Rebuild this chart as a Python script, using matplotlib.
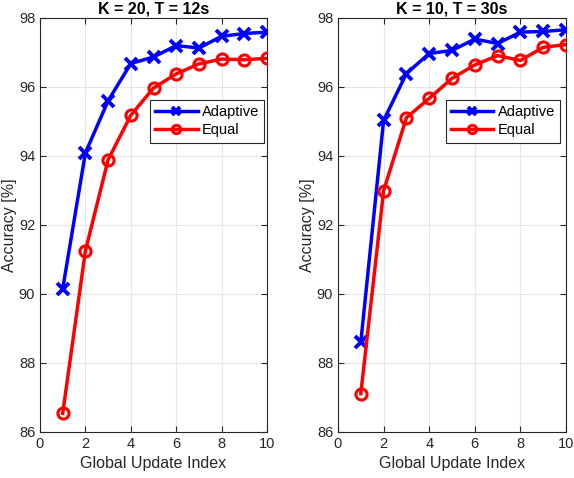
import numpy as np
import matplotlib
matplotlib.use("Agg")
import matplotlib.pyplot as plt

plt.rcParams['font.family'] = ['Liberation Sans', 'DejaVu Sans']

# data
idx = [1, 2, 3, 4, 5, 6, 7, 8, 9, 10]
titles = ['K = 20, T = 12s', 'K = 10, T = 30s']
adaptive_k20 = [90.15, 94.09, 95.60, 96.68, 96.87, 97.20, 97.13, 97.47, 97.55, 97.59]
equal_k20 = [86.54, 91.25, 93.89, 95.18, 95.97, 96.38, 96.67, 96.81, 96.79, 96.83]
adaptive_k10 = [88.60, 95.03, 96.39, 96.97, 97.06, 97.39, 97.26, 97.59, 97.61, 97.66]
equal_k10 = [87.11, 92.99, 95.11, 95.67, 96.25, 96.64, 96.91, 96.77, 97.15, 97.23]
xticks = [0, 2, 4, 6, 8, 10]
yticks = [86, 88, 90, 92, 94, 96, 98]

W, H = 574, 478
fig = plt.figure(figsize=(W / 100, H / 100), dpi=100)

# axes boxes in pixels: left, right, top, bottom
boxes = [(40, 267, 18, 432), (338, 566, 18, 432)]
legend_anchor = [(0.988, 0.802), (0.974, 0.802)]
series = [(adaptive_k20, equal_k20), (adaptive_k10, equal_k10)]

for i, (l, r, t, b) in enumerate(boxes):
    ax = fig.add_axes([l / W, 1 - b / H, (r - l) / W, (b - t) / H])
    ada, eq = series[i]
    ax.plot(idx, ada, color='#0000ff', lw=2.5, marker='x', ms=8, mew=2.8,
            label='Adaptive', zorder=3)
    ax.plot(idx, eq, color='#ff0000', lw=2.5, marker='o', ms=8, mew=2.2,
            mfc='none', label='Equal', zorder=3)
    ax.set_xlim(0, 10)
    ax.set_ylim(86, 98)
    ax.set_xticks(xticks)
    ax.set_yticks(yticks)
    ax.grid(True, color='#e6e6e6', lw=0.8)
    ax.set_axisbelow(True)
    for s in ax.spines.values():
        s.set_color('#262626')
        s.set_linewidth(0.8)
    ax.tick_params(direction='in', length=4, width=0.8, colors='#262626',
                   labelsize=10.5, top=True, right=True,
                   labeltop=False, labelright=False)
    ax.set_xlabel('Global Update Index', fontsize=11.5, color='#262626')
    ax.set_ylabel('Accuracy [%]', fontsize=11.5, color='#262626', labelpad=1)
    ax.set_title(titles[i], fontsize=11.5, fontweight='bold', pad=3)
    leg = ax.legend(loc='upper right', bbox_to_anchor=legend_anchor[i],
                    borderaxespad=0, fancybox=False, framealpha=1,
                    edgecolor='#262626', fontsize=10.5, handlelength=2.9,
                    borderpad=0.35, labelspacing=0.3, handletextpad=0.3,
                    markerscale=0.75)
    leg.get_frame().set_linewidth(0.8)

fig.savefig('out.png', dpi=100)
